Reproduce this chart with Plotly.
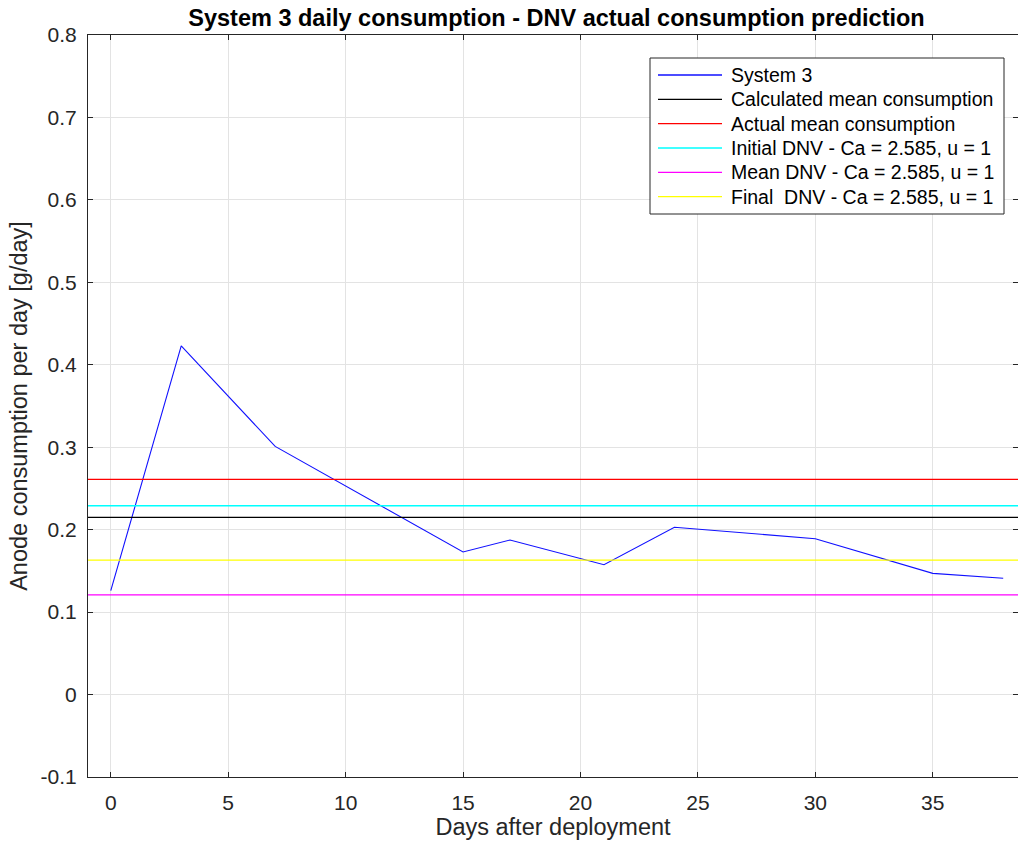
import plotly.graph_objects as go

# Daily anode consumption for System 3
days = [0, 3, 7, 15, 17, 21, 24, 30, 35, 38]
consumption = [0.126, 0.423, 0.301, 0.173, 0.1875, 0.1575, 0.203, 0.189, 0.147, 0.141]

# Reference levels (g/day)
calc_mean = 0.215
actual_mean = 0.261
dnv_initial = 0.229
dnv_mean = 0.121
dnv_final = 0.163

x_range = [-0.97, 38.63]
y_range = [-0.1, 0.8]
x_ticks = [0, 5, 10, 15, 20, 25, 30, 35]
y_ticks = [-0.1, 0, 0.1, 0.2, 0.3, 0.4, 0.5, 0.6, 0.7, 0.8]
y_tick_text = ["-0.1", "0", "0.1", "0.2", "0.3", "0.4", "0.5", "0.6", "0.7", "0.8"]

FONT = "Liberation Sans, Arial, Helvetica, sans-serif"
AX = "#262626"
W, H = 1018, 848
ML, MT, MB = 88, 35, 71

series = [("System 3", "#1010ff")]
levels = [
    (calc_mean, "#000000", "Calculated mean consumption"),
    (actual_mean, "#ff0000", "Actual mean consumption"),
    (dnv_initial, "#00ffff", "Initial DNV - Ca = 2.585, u = 1"),
    (dnv_mean, "#ff00ff", "Mean DNV - Ca = 2.585, u = 1"),
    (dnv_final, "#ffff00", "Final  DNV - Ca = 2.585, u = 1"),
]

fig = go.Figure()
fig.add_trace(go.Scatter(x=days, y=consumption, mode="lines",
                         line=dict(color=series[0][1], width=1.1), name=series[0][0]))
span = [-1, 39]
for val, col, name in levels:
    fig.add_trace(go.Scatter(x=span, y=[val, val], mode="lines",
                             line=dict(color=col, width=1.3), name=name))


# Boxed legend in the upper right (MATLAB style), placed in pixel units
def px_x(p):
    return p / W


def px_y(p):
    return 1 - p / H


legend_entries = [(n, c) for n, c in series] + [(n, c) for _, c, n in levels]
box_l, box_r, box_t, box_b = 650, 1004, 58, 214
row0, row_step = 75, 24.33
shapes = [dict(type="rect", xref="paper", yref="paper",
               x0=px_x(box_l), x1=px_x(box_r), y0=px_y(box_b), y1=px_y(box_t),
               line=dict(color=AX, width=1), fillcolor="white", layer="above")]
annotations = []
for i, (name, col) in enumerate(legend_entries):
    yc = row0 + i * row_step
    shapes.append(dict(type="line", xref="paper", yref="paper",
                       x0=px_x(658), x1=px_x(722), y0=px_y(yc), y1=px_y(yc),
                       line=dict(color=col, width=1.3), layer="above"))
    annotations.append(dict(xref="paper", yref="paper", x=px_x(729), y=px_y(yc),
                            xanchor="left", yanchor="middle", text=name, showarrow=False,
                            font=dict(size=19.5, color="#000000", family=FONT)))

# convert paper coords that are given relative to the full page into plot-area paper coords
plot_w = W - ML
plot_h = H - MT - MB
for s in shapes:
    s["x0"] = (s["x0"] * W - ML) / plot_w
    s["x1"] = (s["x1"] * W - ML) / plot_w
    s["y0"] = ((s["y0"] * H) - MB) / plot_h
    s["y1"] = ((s["y1"] * H) - MB) / plot_h
for a in annotations:
    a["x"] = (a["x"] * W - ML) / plot_w
    a["y"] = ((a["y"] * H) - MB) / plot_h

fig.update_layout(
    width=W, height=H,
    margin=dict(l=ML, r=0, t=MT, b=MB),
    paper_bgcolor="white", plot_bgcolor="white",
    font=dict(family=FONT, size=21, color=AX),
    title=dict(text="<b>System 3 daily consumption - DNV actual consumption prediction</b>",
               x=(88 + 1025) / 2 / W, xanchor="center", y=1 - 18 / H, yanchor="middle",
               font=dict(size=23.5, color="#000000")),
    showlegend=False,
    shapes=shapes,
    annotations=annotations,
)

fig.update_xaxes(range=x_range, tickvals=x_ticks, ticks="inside", ticklen=5,
                 tickcolor=AX, showline=True, linecolor=AX, linewidth=1, mirror="ticks",
                 showgrid=True, gridcolor="#e3e3e3", gridwidth=1, zeroline=False,
                 ticklabelstandoff=7,
                 title=dict(text="Days after deployment", standoff=4, font=dict(size=23.5)))
fig.update_yaxes(range=y_range, tickvals=y_ticks, ticktext=y_tick_text, ticks="inside",
                 ticklen=5, tickcolor=AX, showline=True, linecolor=AX, linewidth=1,
                 mirror="ticks", showgrid=True, gridcolor="#e3e3e3", gridwidth=1,
                 zeroline=False, ticklabelstandoff=6,
                 title=dict(text="Anode consumption per day [g/day]", standoff=6,
                            font=dict(size=23.5)))

fig.write_html("out.html")
